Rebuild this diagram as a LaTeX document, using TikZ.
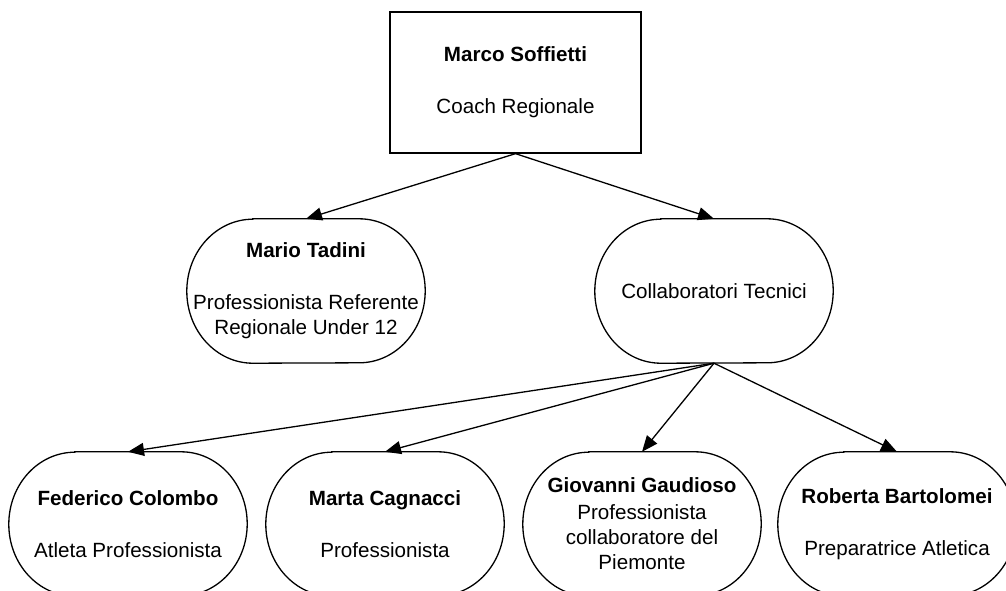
\documentclass[tikz,border=0pt]{standalone}
\usepackage{fontspec}
\setmainfont{Liberation Sans}
\usetikzlibrary{arrows.meta}
\begin{document}
\begin{tikzpicture}[x=1pt,y=-1pt,
  txt/.style={align=center,font=\fontsize{20.6}{25}\selectfont,inner sep=0pt},
  boxnode/.style={txt,draw,line width=1.3pt,minimum width=251pt,minimum height=141pt},
  term/.style={txt,minimum width=238pt,minimum height=144pt},
  outline/.style={line width=1.3pt},
  arr/.style={line width=1.3pt,-{Triangle[length=16pt,width=13pt]}}]
\useasboundingbox (0,0) rectangle (1006,590);
\node[boxnode] (ms) at (515.5,82.5) {\textbf{Marco Soffietti}\\[27pt]Coach Regionale};
\node[term] (mt) at (306,291) {\textbf{Mario Tadini}\\[27pt]Professionista Referente\\Regionale Under 12};
\node[term] (ct) at (714,291) {Collaboratori Tecnici};
\node[term] (fc) at (128,524) {\textbf{Federico Colombo}\\[27pt]Atleta Professionista};
\node[term] (mc) at (385,524) {\textbf{Marta Cagnacci}\\[27pt]Professionista};
\node[term] (gg) at (642,524) {\textbf{Giovanni Gaudioso}\\[2pt]Professionista\\collaboratore del\\Piemonte};
\node[term] (rb) at (897,524) {\textbf{Roberta Bartolomei}\\[27pt]Preparatrice Atletica};
\foreach \n in {mt,ct,fc,mc,gg,rb}{
  \draw[outline] ([xshift=66pt]\n.north west) -- ([xshift=-66pt]\n.north east)
    arc[start angle=90,end angle=-90,x radius=66pt,y radius=72pt]
    -- ([xshift=66pt]\n.south west)
    arc[start angle=270,end angle=90,x radius=66pt,y radius=72pt] -- cycle;
}
\draw[arr] (ms.south) -- (mt.north);
\draw[arr] (ms.south) -- (ct.north);
\draw[arr] (ct.south) -- (fc.north);
\draw[arr] (ct.south) -- (mc.north);
\draw[arr] (ct.south) -- (gg.north);
\draw[arr] (ct.south) -- (rb.north);
\end{tikzpicture}
\end{document}
